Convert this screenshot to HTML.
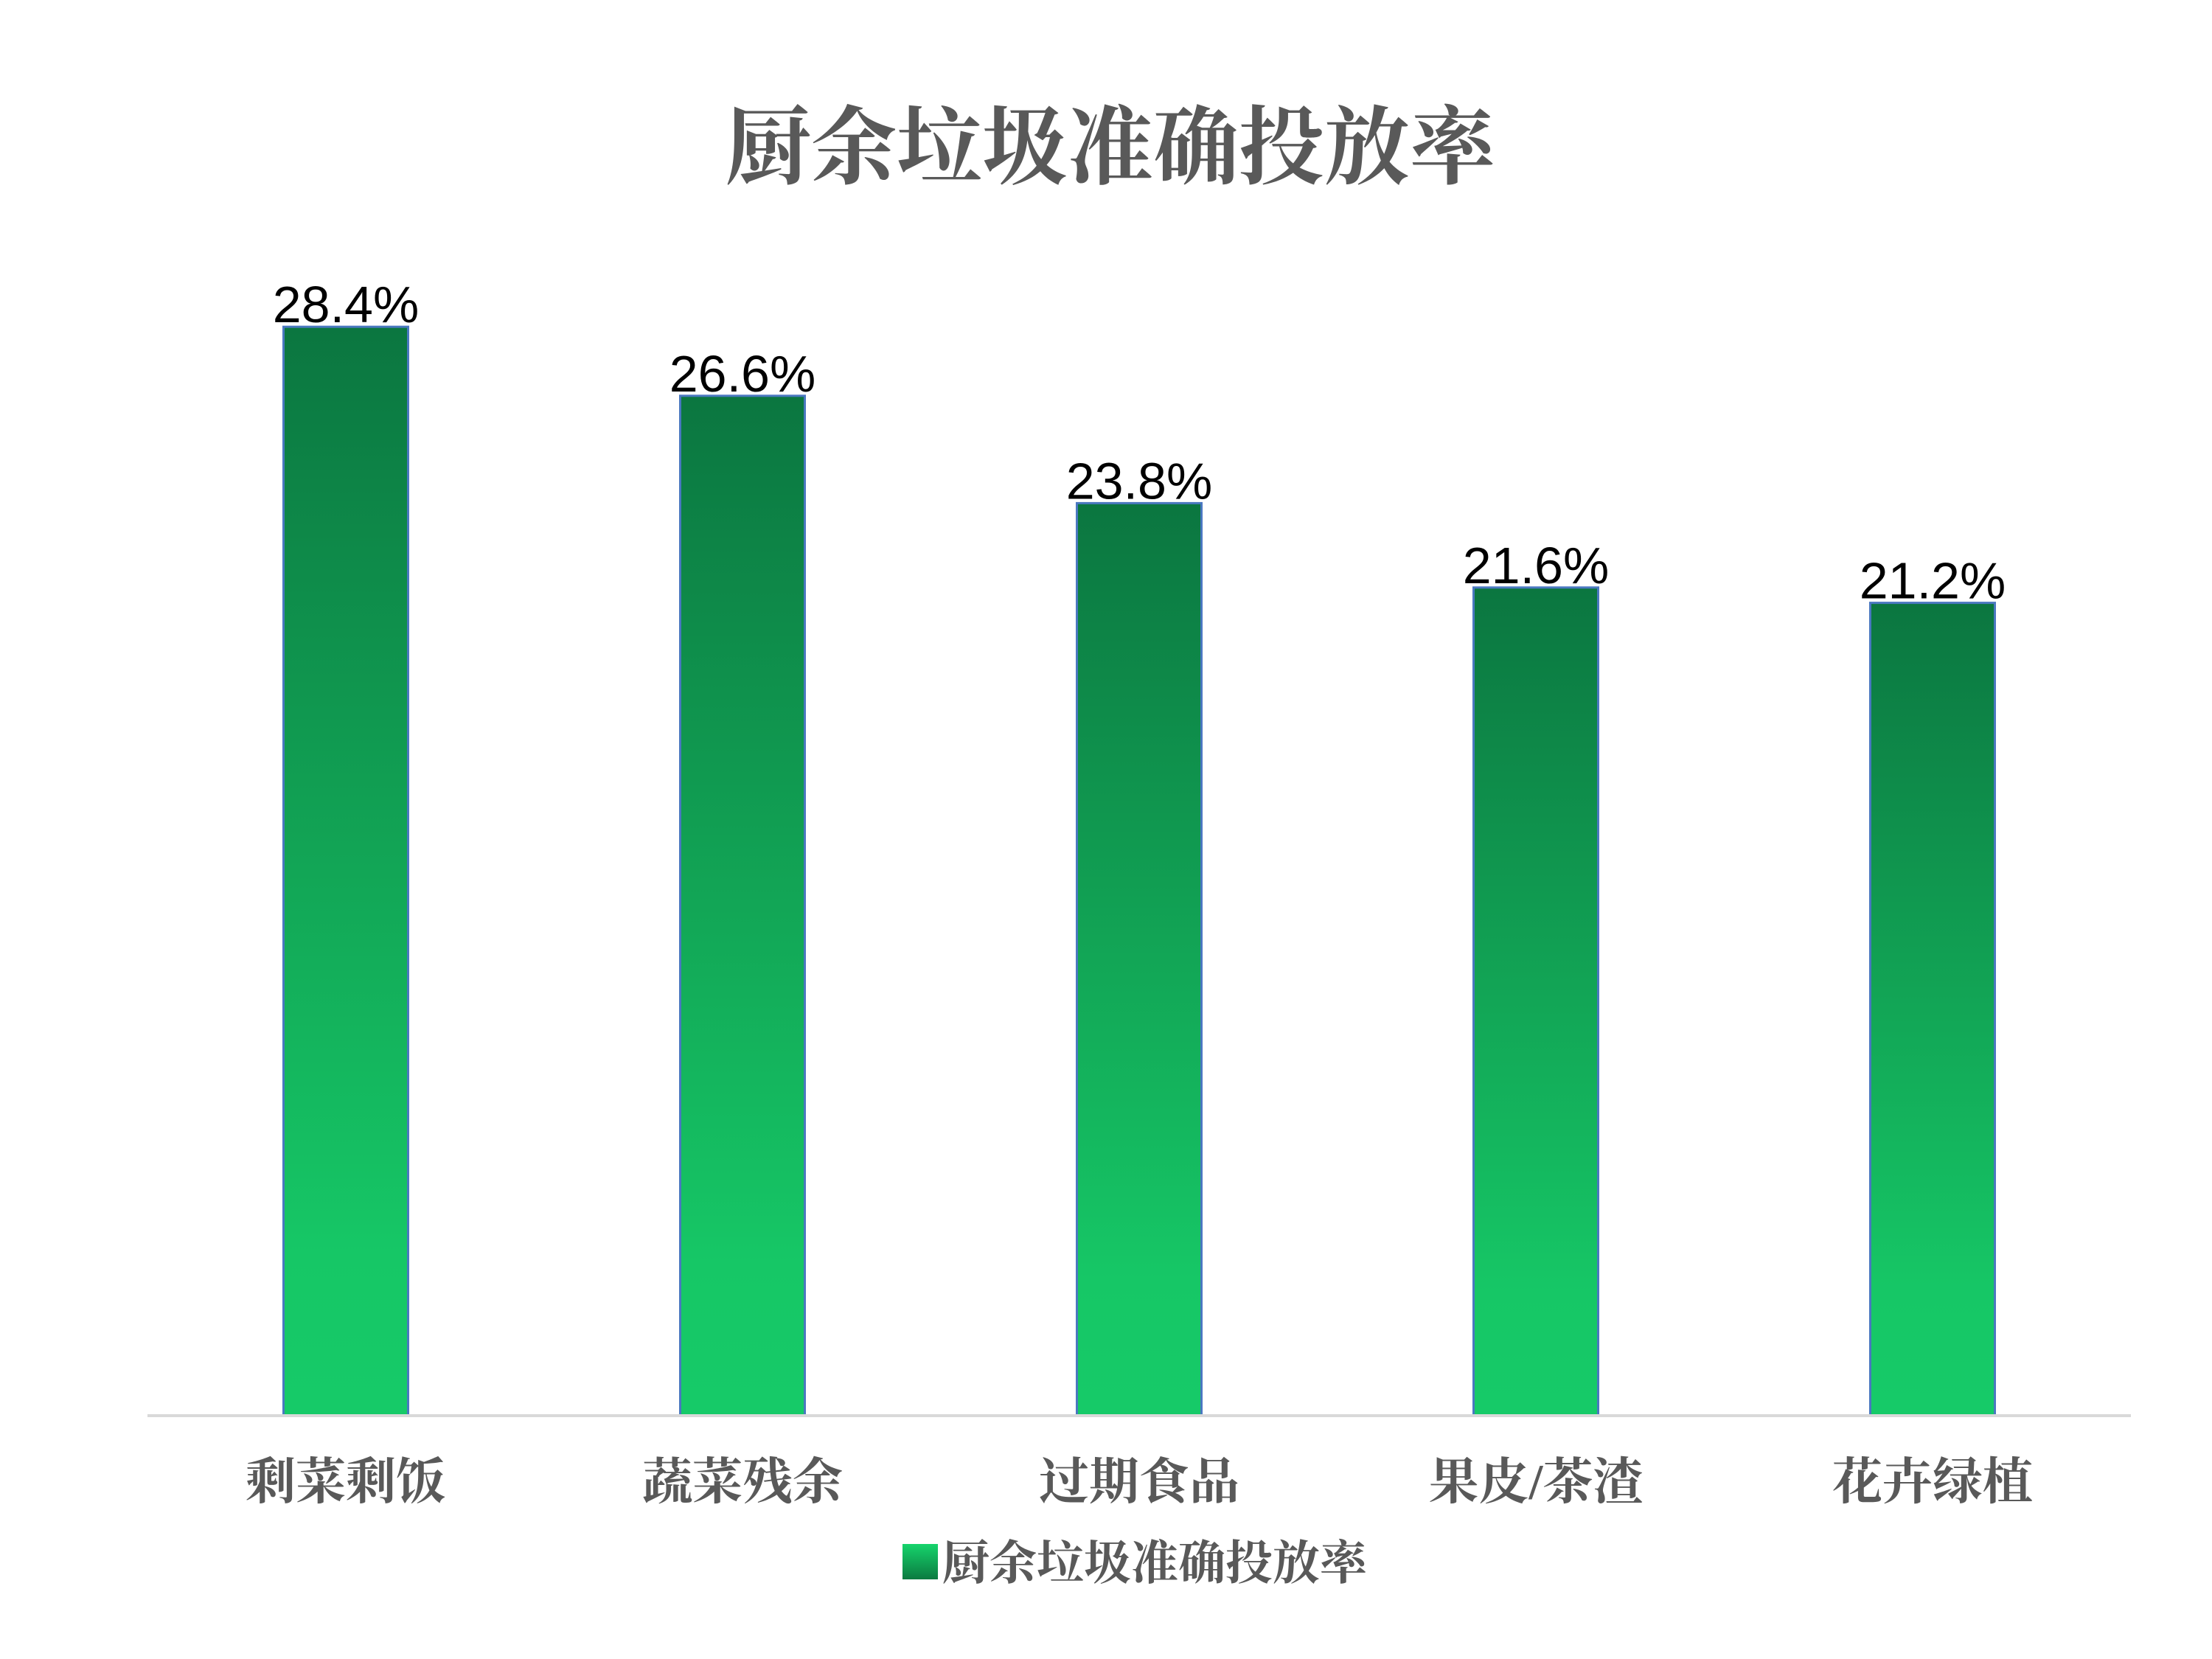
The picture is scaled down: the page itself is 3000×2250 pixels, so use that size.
<!DOCTYPE html>
<html><head><meta charset="utf-8"><style>
html,body{margin:0;padding:0;background:#fff;}
svg{display:block;}
</style></head><body>
<svg width="3000" height="2250" viewBox="0 0 3000 2250" xmlns="http://www.w3.org/2000/svg">
<defs>
<linearGradient id="g" x1="0" y1="0" x2="0" y2="1">
<stop offset="0" stop-color="#0b7640"/><stop offset="0.5" stop-color="#12a656"/><stop offset="0.85" stop-color="#16c766"/><stop offset="1" stop-color="#16ca68"/>
</linearGradient>
<linearGradient id="lg" x1="0" y1="0" x2="0" y2="1">
<stop offset="0" stop-color="#16d46c"/><stop offset="1" stop-color="#0b7a40"/>
</linearGradient>
</defs>
<text x="1506" y="240" text-anchor="middle" font-family="'Liberation Serif','Noto Serif CJK SC',serif" font-weight="bold" font-size="116" fill="#595959">厨余垃圾准确投放率</text>
<g id="plot"></g>
<line x1="200" y1="1920" x2="2890" y2="1920" stroke="#d9d9d9" stroke-width="4"/>
<rect x="1224" y="2094" width="48" height="48" fill="url(#lg)"/>
<text x="1278" y="2142" font-family="'Liberation Serif','Noto Serif CJK SC',serif" font-weight="bold" font-size="64" fill="#595959">厨余垃圾准确投放率</text>
</svg>
<script>
const categories = ["剩菜剩饭","蔬菜残余","过期食品","果皮/茶渣","花卉绿植"];
const values = [28.4, 26.6, 23.8, 21.6, 21.2];
const valueLabels = ["28.4%","26.6%","23.8%","21.6%","21.2%"];
const plotLeft = 200, plotRight = 2890, baseY = 1920, pxPerUnit = 52.0;
const band = (plotRight - plotLeft) / categories.length;
const barW = 169;
function xCenter(i){ return plotLeft + band * (i + 0.5); }
function yScale(v){ return baseY - v * pxPerUnit; }
const NS = "http://www.w3.org/2000/svg";
const g = document.getElementById("plot");
categories.forEach((c, i) => {
  const cx = xCenter(i), top = yScale(values[i]);
  const r = document.createElementNS(NS, "rect");
  
  
  r.setAttribute("x", cx - barW / 2); r.setAttribute("y", top);
  r.setAttribute("width", barW); r.setAttribute("height", baseY - top);
  r.setAttribute("fill", "url(#g)"); r.setAttribute("stroke", "#4a78c0"); r.setAttribute("stroke-width", "3");
  g.appendChild(r);
  const t = document.createElementNS(NS, "text");
  
  
  t.setAttribute("x", cx); t.setAttribute("y", top - 6);
  t.setAttribute("text-anchor", "middle");
  t.setAttribute("font-family", "'Liberation Sans',Arial,sans-serif");
  t.setAttribute("font-size", "70"); t.setAttribute("fill", "#000");
  t.textContent = valueLabels[i];
  g.appendChild(t);
  const l = document.createElementNS(NS, "text");
  
  
  l.setAttribute("x", cx); l.setAttribute("y", 2033);
  l.setAttribute("text-anchor", "middle");
  l.setAttribute("font-family", "'Liberation Serif','Noto Serif CJK SC',serif");
  l.setAttribute("font-weight", "bold");
  l.setAttribute("font-size", "68"); l.setAttribute("fill", "#595959");
  l.textContent = c;
  g.appendChild(l);
});
</script>
</body></html>
